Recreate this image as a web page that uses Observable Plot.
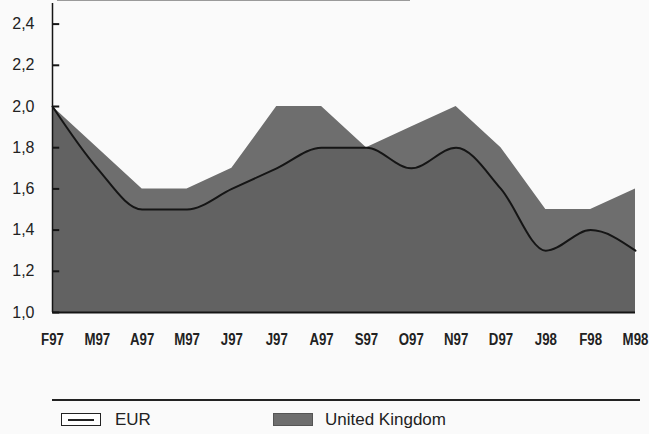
<!DOCTYPE html>
<html>
<head>
<meta charset="utf-8">
<script src="https://cdn.jsdelivr.net/npm/d3@7"></script>
<script src="https://cdn.jsdelivr.net/npm/@observablehq/plot@0.6"></script>
<style>
  html, body { margin: 0; padding: 0; background: #fafafa; }
  #wrap { position: relative; width: 649px; height: 434px; overflow: hidden; font-family: "Liberation Sans", Arial, sans-serif; }
  #chart { position: absolute; left: 0; top: 0; }
  .topline { position: absolute; left: 57px; top: 0; width: 353px; height: 1px; background: #9a9a9a; }
  .legline { position: absolute; left: 52px; top: 399px; width: 588px; height: 2px; background: #222; }
  .sw { position: absolute; top: 413px; width: 38px; height: 11px; box-sizing: content-box; }
  .sw.eur { left: 61px; background: #fff; border: 1px solid #222; }
  .sw.eur::after { content: ""; position: absolute; left: 6px; right: 6px; top: 5px; height: 2px; background: #222; }
  .sw.uk { left: 273px; background: #6e6e6e; border: 1px solid #555; }
  .lab { position: absolute; top: 410px; font-size: 17px; color: #222; line-height: 20px; }
</style>
</head>
<body>
<div id="wrap">
  <div id="chart"></div>
  <div class="topline"></div>
  <div class="legline"></div>
  <div class="sw eur"></div><div class="lab" style="left:115px">EUR</div>
  <div class="sw uk"></div><div class="lab" style="left:325px">United Kingdom</div>
</div>
<script>
const months = ["F97","M97","A97","M97","J97","J97","A97","S97","O97","N97","D97","J98","F98","M98"];
const ukValues = [2.0,1.8,1.6,1.6,1.7,2.0,2.0,1.8,1.9,2.0,1.8,1.5,1.5,1.6];
const eurValues = [2.0,1.7,1.5,1.5,1.6,1.7,1.8,1.8,1.7,1.8,1.6,1.3,1.4,1.3];
const yTicks = [1.0,1.2,1.4,1.6,1.8,2.0,2.2,2.4];

const data = months.map((m, i) => ({i, m, uk: ukValues[i], eur: eurValues[i]}));
const tickRows = yTicks.map(v => ({v}));

const chart = Plot.plot({
  width: 649,
  height: 350,
  marginLeft: 52,
  marginRight: 14,
  marginTop: 3,
  marginBottom: 38,
  style: {background: "transparent", color: "#222"},
  x: {type: "linear", domain: [0, months.length - 1]},
  y: {domain: [1.0, 2.5]},
  marks: [
    Plot.areaY(data, {x: "i", y1: 1.0, y2: "uk", fill: "#6e6e6e"}),
    Plot.areaY(data, {x: "i", y1: 1.0, y2: "eur", fill: "#626262", curve: "monotone-x"}),
    Plot.lineY(data, {x: "i", y: "eur", stroke: "#151515", strokeWidth: 2, curve: "monotone-x"}),
    Plot.link(tickRows, {x1: () => 0, x2: () => 0.15, y1: "v", y2: "v", stroke: "#151515", strokeWidth: 2}),
    Plot.ruleY([1.0], {stroke: "#151515", strokeWidth: 2}),
    Plot.ruleX([0], {stroke: "#151515", strokeWidth: 1.5}),
    Plot.axisY({ticks: yTicks, tickSize: 0, tickPadding: 18, label: null,
      tickFormat: d => d.toFixed(1).replace(".", ","),
      fontSize: 16, fontFamily: "Liberation Sans, Arial, sans-serif"}),
    Plot.axisX({ticks: d3.range(months.length), tickSize: 0, tickPadding: 20, label: null,
      tickFormat: i => months[i],
      fontSize: 17, fontWeight: "bold", fontFamily: "Liberation Sans, Arial, sans-serif"})
  ]
});
d3.select(chart).selectAll('g[aria-label="x-axis tick label"] text').each(function() {
  const t = this.getAttribute("transform") || "";
  this.setAttribute("transform", t + " scale(0.78,1)");
});
document.getElementById("chart").append(chart);
</script>
</body>
</html>
